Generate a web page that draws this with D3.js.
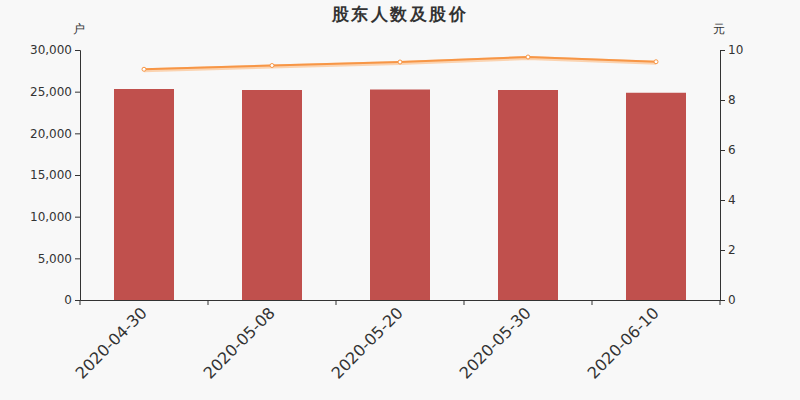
<!DOCTYPE html>
<html>
<head>
<meta charset="utf-8">
<script src="https://cdn.jsdelivr.net/npm/d3@7"></script>
<style>
	body { margin: 0; background: #f8f8f8; }
	svg { display: block; }
	svg text { font-family: "DejaVu Sans", sans-serif; }
	.axis path, .axis line { stroke: #333; }
	.axis text { fill: #333; font-size: 12px; }
</style>
</head>
<body>
<script>
var dates = ["2020-04-30", "2020-05-08", "2020-05-20", "2020-05-30", "2020-06-10"];
var holders = [25320, 25200, 25260, 25200, 24870];
var prices = [9.23, 9.38, 9.52, 9.72, 9.53];
var leftTicks = [0, 5000, 10000, 15000, 20000, 25000, 30000];
var rightTicks = [0, 2, 4, 6, 8, 10];

var width = 800, height = 400;
var m = {top: 50, right: 80, bottom: 100, left: 80};

var svg = d3.select("body").append("svg").attr("width", width).attr("height", height);
svg.append("rect").attr("width", width).attr("height", height).attr("fill", "#f8f8f8");

var x = d3.scaleBand().domain(dates).range([m.left, width - m.right]);
var yL = d3.scaleLinear().domain([0, 30000]).range([height - m.bottom, m.top]);
var yR = d3.scaleLinear().domain([0, 10]).range([height - m.bottom, m.top]);

// title and unit labels
svg.append("text").attr("x", 400).attr("y", 20).attr("text-anchor", "middle")
	.attr("font-size", "17px").attr("font-weight", "bold").attr("fill", "#333")
	.attr("letter-spacing", "2.5px").text("股东人数及股价");
svg.append("text").attr("x", 79).attr("y", 33).attr("text-anchor", "middle")
	.attr("font-size", "12px").attr("fill", "#333").text("户");
svg.append("text").attr("x", 719).attr("y", 33).attr("text-anchor", "middle")
	.attr("font-size", "12px").attr("fill", "#333").text("元");

// bars
var barW = 60;
svg.selectAll(".bar").data(holders).enter().append("rect").attr("class", "bar")
	.attr("x", function(d, i){ return x(dates[i]) + (x.bandwidth() - barW) / 2; })
	.attr("y", function(d){ return yL(d); })
	.attr("width", barW)
	.attr("height", function(d){ return yL(0) - yL(d); })
	.attr("fill", "#c0504d");

// axes
svg.append("g").attr("class", "axis").attr("transform", "translate(" + m.left + ",0)")
	.call(d3.axisLeft(yL).tickValues(leftTicks).tickSizeOuter(0).tickSize(5).tickPadding(3).tickFormat(d3.format(",")));
svg.append("g").attr("class", "axis").attr("transform", "translate(" + (width - m.right) + ",0)")
	.call(d3.axisRight(yR).tickValues(rightTicks).tickSizeOuter(0).tickSize(5).tickPadding(3));

var xg = svg.append("g").attr("class", "axis").attr("transform", "translate(0," + (height - m.bottom) + ")")
	.call(d3.axisBottom(x).tickSize(0).tickFormat(""));
xg.selectAll(".bnd").data(d3.range(dates.length + 1)).enter().append("line").attr("class", "bnd")
	.attr("x1", function(i){ return m.left + i * x.step(); })
	.attr("x2", function(i){ return m.left + i * x.step(); })
	.attr("y1", 0).attr("y2", 5);
xg.selectAll(".lbl").data(dates).enter().append("text").attr("class", "lbl")
	.attr("transform", function(d){ return "translate(" + (x(d) + x.bandwidth() / 2) + ",10) rotate(-45)"; })
	.attr("text-anchor", "end").attr("dy", "0.35em")
	.style("font-size", "16px").text(function(d){ return d; });

// price line
var line = d3.line().x(function(d, i){ return x(dates[i]) + x.bandwidth() / 2; }).y(function(d){ return yR(d); });
svg.append("path").datum(prices).attr("d", line).attr("fill", "none")
	.attr("stroke", "#fbd3b0").attr("stroke-width", 4).attr("transform", "translate(0,1)");
svg.append("path").datum(prices).attr("d", line).attr("fill", "none")
	.attr("stroke", "#f79646").attr("stroke-width", 2);
svg.selectAll(".pt").data(prices).enter().append("circle").attr("class", "pt")
	.attr("cx", function(d, i){ return x(dates[i]) + x.bandwidth() / 2; })
	.attr("cy", function(d){ return yR(d); })
	.attr("r", 2).attr("fill", "#fff").attr("stroke", "#f79646").attr("stroke-width", 1);
</script>
</body>
</html>
